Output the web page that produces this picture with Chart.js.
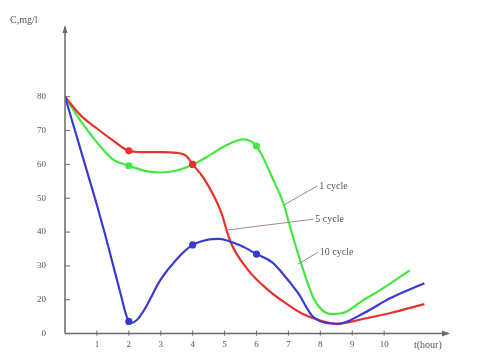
<!DOCTYPE html>
<html><head><meta charset="utf-8">
<script src="https://cdn.jsdelivr.net/npm/chart.js@4"></script>
<style>html,body{margin:0;padding:0;background:#fff}#wrap{width:480px;height:358px}</style>
</head><body><div id="wrap"><canvas id="c" width="480" height="358"></canvas></div>
<script>
// ---- data ----
const seriesNames = ['1 cycle', '5 cycle', '10 cycle'];
const seriesColors = ['#40e840', '#e8322c', '#3a3ad0'];

const cycle1X = [0, 0.5, 1, 1.5, 2, 2.5, 3, 3.5, 4, 4.5, 5, 5.6, 6, 6.5, 6.86, 7.08, 7.4, 7.8, 8.05, 8.33, 8.8, 9.3, 9.9, 10.8];
const cycle1Y = [80, 72.7, 66.5, 61.5, 59.6, 58.1, 57.6, 58.2, 59.9, 62.5, 65.4, 67.4, 65.4, 56, 48, 40.6, 30.7, 20.2, 17, 15.8, 16.4, 19.6, 23, 28.7];

const cycle5X = [0, 0.5, 1, 1.5, 2, 2.5, 3, 3.5, 3.8, 4, 4.34, 4.87, 5.19, 5.72, 6.35, 6.76, 7.39, 8.02, 8.55, 9.37, 10.2, 11.26];
const cycle5Y = [80, 74.4, 70.6, 67.1, 64, 63.6, 63.6, 63.4, 62.5, 60, 56, 46.4, 37, 29, 23, 20, 16.1, 13.8, 12.9, 14.4, 16.1, 18.7];

const cycle10X = [0, 0.25, 0.5, 0.75, 1, 1.25, 1.5, 1.75, 1.9, 2, 2.1, 2.3, 2.5, 3, 3.5, 4, 4.5, 4.8, 5.5, 6, 6.5, 6.8, 7.3, 7.8, 8.55, 9.37, 10.2, 11.26];
const cycle10Y = [80, 72, 64, 56, 48, 39.5, 30.5, 21.5, 16, 13.6, 13.2, 14.5, 17.3, 26, 32, 36.2, 37.8, 38, 36, 33.5, 31, 28, 22, 14.7, 12.9, 16.1, 20.5, 24.9];

const markerX = [[2, 4, 6], [2, 4], [2, 4, 6]];

const xTickValues = [1, 2, 3, 4, 5, 6, 7, 8, 9, 10];
const xTickLabels = ['1', '2', '3', '4', '5', '6', '7', '8', '9', '10'];
const yTickValues = [10, 20, 30, 40, 50, 60, 70, 80];
const yTickLabels = ['0', '20', '30', '40', '50', '60', '70', '80'];

const yAxisTitle = 'C,mg/l';
const xAxisTitle = 't(hour)';

// leader lines: [anchor x, anchor y, label x, label y] in data units
const leaderAnchors = [[6.86, 48], [5.0, 40.5], [7.3, 30.5]];
const leaderLabelPos = [[7.9, 53.6], [7.78, 43.8], [7.92, 34]];

// ---- build chart ----
function pts(xs, ys) { return xs.map((x, i) => ({ x: x, y: ys[i] })); }
const allX = [cycle1X, cycle5X, cycle10X];
const allY = [cycle1Y, cycle5Y, cycle10Y];

const datasets = seriesNames.map((name, k) => ({
  label: name,
  data: pts(allX[k], allY[k]),
  borderColor: seriesColors[k],
  backgroundColor: seriesColors[k],
  borderWidth: 2.2,
  cubicInterpolationMode: 'monotone',
  pointRadius: allX[k].map(x => markerX[k].includes(x) ? 2.5 : 0),
  pointHoverRadius: 0,
  fill: false
}));
datasets.reverse();

const FONT = '"Liberation Serif", "DejaVu Serif", serif';

const decor = {
  id: 'decor',
  afterDatasetsDraw(chart) {
    const ctx = chart.ctx;
    const xs = chart.scales.x, ys = chart.scales.y;
    const a = chart.chartArea;
    ctx.save();
    ctx.strokeStyle = '#6a6a6a';
    ctx.fillStyle = '#6a6a6a';
    ctx.lineWidth = 1.5;
    ctx.beginPath(); ctx.moveTo(a.left, a.bottom); ctx.lineTo(a.right, a.bottom); ctx.stroke();
    ctx.beginPath(); ctx.moveTo(a.right + 2, a.bottom); ctx.lineTo(a.right - 6, a.bottom - 3); ctx.lineTo(a.right - 6, a.bottom + 3); ctx.closePath(); ctx.fill();
    ctx.beginPath(); ctx.moveTo(a.left, a.bottom); ctx.lineTo(a.left, a.top - 2); ctx.stroke();
    ctx.beginPath(); ctx.moveTo(a.left, a.top - 4); ctx.lineTo(a.left - 2.5, a.top + 4); ctx.lineTo(a.left + 2.5, a.top + 4); ctx.closePath(); ctx.fill();
    ctx.lineWidth = 1;
    xTickValues.forEach(v => {
      const px = xs.getPixelForValue(v);
      ctx.beginPath(); ctx.moveTo(px, a.bottom - 3); ctx.lineTo(px, a.bottom + 2); ctx.stroke();
    });
    yTickValues.forEach(v => {
      const py = ys.getPixelForValue(v);
      ctx.beginPath(); ctx.moveTo(a.left, py); ctx.lineTo(a.left + 5, py); ctx.stroke();
    });
    ctx.font = '10px ' + FONT;
    ctx.textBaseline = 'middle';
    ctx.textAlign = 'left';
    const leaderColors = ['#8a8a8a', '#a08a90', '#8a8a8a'];
    leaderAnchors.forEach((an, i) => {
      const lp = leaderLabelPos[i];
      const x1 = xs.getPixelForValue(an[0]), y1 = ys.getPixelForValue(an[1]);
      const x2 = xs.getPixelForValue(lp[0]), y2 = ys.getPixelForValue(lp[1]);
      ctx.strokeStyle = leaderColors[i];
      ctx.lineWidth = 1;
      ctx.beginPath(); ctx.moveTo(x1, y1); ctx.lineTo(x2, y2); ctx.stroke();
      ctx.fillStyle = '#555';
      ctx.fillText(seriesNames[i], x2 + 2, y2);
    });
    ctx.fillStyle = '#555';
    ctx.font = '10px ' + FONT;
    ctx.textAlign = 'left';
    ctx.fillText(yAxisTitle, 10, 20);
    ctx.fillText(xAxisTitle, a.right - 34, a.bottom + 12);
    ctx.restore();
  }
};

new Chart(document.getElementById('c'), {
  type: 'line',
  data: { datasets: datasets },
  options: {
    responsive: false,
    animation: false,
    events: [],
    layout: { padding: { top: 29, right: 32, left: 0, bottom: 0 } },
    plugins: { legend: { display: false }, tooltip: { enabled: false } },
    scales: {
      x: {
        type: 'linear', min: 0, max: 12,
        grid: { display: false, drawTicks: false },
        border: { display: false },
        afterBuildTicks: s => { s.ticks = xTickValues.map(v => ({ value: v })); },
        afterFit: s => { s.height = 20; },
        ticks: {
          padding: 6,
          color: '#555',
          font: { family: FONT, size: 9 },
          callback: v => xTickLabels[xTickValues.indexOf(v)]
        }
      },
      y: {
        type: 'linear', min: 10, max: 100,
        grid: { display: false, drawTicks: false },
        border: { display: false },
        afterBuildTicks: s => { s.ticks = yTickValues.map(v => ({ value: v })); },
        afterFit: s => { s.width = 65; },
        ticks: {
          padding: 19,
          color: '#555',
          font: { family: FONT, size: 9 },
          callback: v => yTickLabels[yTickValues.indexOf(v)]
        }
      }
    }
  },
  plugins: [decor]
});
</script>
</body></html>
